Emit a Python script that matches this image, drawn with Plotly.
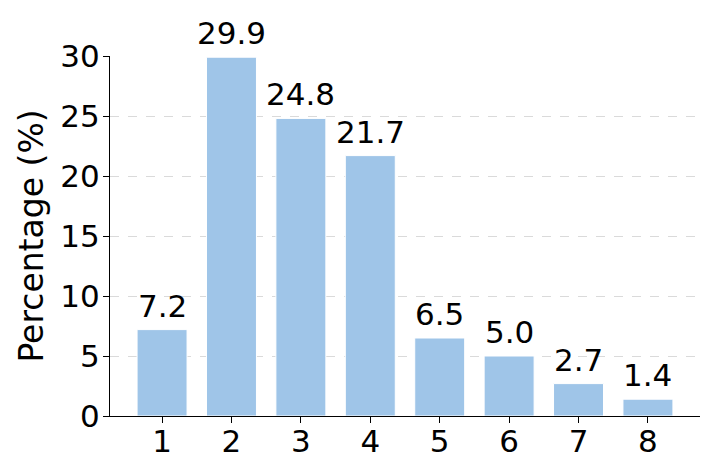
import plotly.graph_objects as go

categories = [1, 2, 3, 4, 5, 6, 7, 8]
percentages = [7.2, 29.9, 24.8, 21.7, 6.5, 5.0, 2.7, 1.4]
y_ticks = [0, 5, 10, 15, 20, 25, 30]

FONT = "DejaVu Sans"
fig = go.Figure()
fig.add_trace(go.Bar(
    x=categories, y=percentages, width=0.72,
    marker=dict(color="#9fc5e8", line=dict(color="white", width=1)),
    cliponaxis=False,
))
for c, v in zip(categories, percentages):
    fig.add_annotation(
        x=c, y=v, text=f"{v:.1f}", showarrow=False,
        xanchor="center", yanchor="bottom", yshift=4,
        font=dict(family=FONT, size=31, color="black"),
    )
fig.update_layout(
    width=718, height=459,
    margin=dict(l=102, r=26, t=48, b=51),
    plot_bgcolor="white", paper_bgcolor="white",
    font=dict(family=FONT, size=31, color="black"),
    showlegend=False,
)
fig.update_xaxes(
    range=[0.25, 8.75], tickvals=categories, ticktext=[str(c) for c in categories],
    showline=True, linecolor="black", linewidth=1.2, automargin=False,
    ticks="outside", ticklen=6, tickcolor="black", showgrid=False, zeroline=False,
    tickfont=dict(family=FONT, size=31), ticklabelstandoff=-8,
)
fig.update_yaxes(
    range=[0, 30], tickvals=y_ticks, automargin=False,
    showline=True, linecolor="black", linewidth=1.2,
    ticks="outside", ticklen=6, tickcolor="black",
    showgrid=True, gridcolor="#dadada", griddash="dash", gridwidth=1, zeroline=False,
    title=dict(text="Percentage (%)", font=dict(family=FONT, size=33), standoff=6),
    tickfont=dict(family=FONT, size=31), ticklabelstandoff=-3,
)
fig.write_html("out.html")
